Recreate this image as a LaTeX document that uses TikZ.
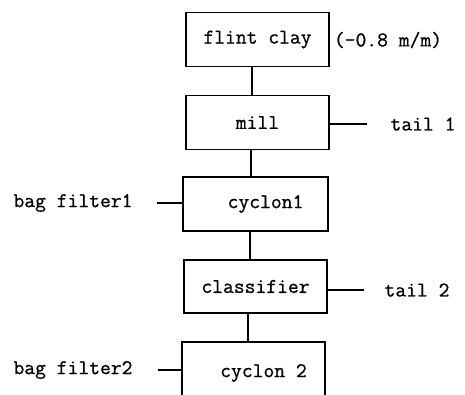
\documentclass[tikz,border=0pt]{standalone}
\usepackage{fontspec}
\setmonofont[FakeBold=0.8]{Latin Modern Mono}
\begin{document}
\begin{tikzpicture}[x=1pt,y=-1pt,
  every node/.style={font=\fontsize{21}{24}\selectfont\ttfamily},
  procbox/.style={draw, line width=1.2pt, inner sep=0pt, minimum width=#1, minimum height=54pt},
  procbox/.default=143pt,
  lbl/.style={inner sep=0pt, anchor=center},
  conn/.style={line width=1.2pt}]
\useasboundingbox (0,0) rectangle (465,395);
% boxes
\node[procbox] (flint) at (257.5,39.5) {flint clay};
\node[procbox] (mill) at (257.5,122.5) {mill};
\node[procbox=145pt] (cyc1) at (255.5,204) {\hspace*{20pt}cyclon1};
\node[procbox, minimum height=53pt] (cls) at (255.5,286.5) {classifier};
\node[procbox, minimum height=62pt] (cyc2) at (253.5,373) {\hspace*{20pt}cyclon 2};
% side labels
\node[lbl] (frac) at (388,40) {(-0.8 m/m)};
\node[lbl] (tail1) at (423,124) {tail 1};
\node[lbl] (tail2) at (417,290) {tail 2};
\node[lbl] (bag1) at (73,203) {bag filter1};
\node[lbl] (bag2) at (73,370) {bag filter2};
% vertical connectors
\draw[conn] ([xshift=-5.5pt]flint.south) -- ([xshift=-5.5pt]flint.south |- mill.north);
\draw[conn] ([xshift=-6.5pt]mill.south) -- ([xshift=-6.5pt]mill.south |- cyc1.north);
\draw[conn] ([xshift=-5.5pt]cyc1.south) -- ([xshift=-5.5pt]cyc1.south |- cls.north);
\draw[conn] ([xshift=-7.5pt]cls.south) -- ([xshift=-7.5pt]cls.south |- cyc2.north);
% side connectors
\draw[conn] (mill.east |- tail1) -- ([xshift=-23pt]tail1.west);
\draw[conn] (cls.east |- tail2) -- ([xshift=-20pt]tail2.west);
\draw[conn] (cyc1.west |- bag1) -- ([xshift=24pt]bag1.east);
\draw[conn] (cyc2.west |- bag2) -- ([xshift=25pt]bag2.east);
\end{tikzpicture}
\end{document}
